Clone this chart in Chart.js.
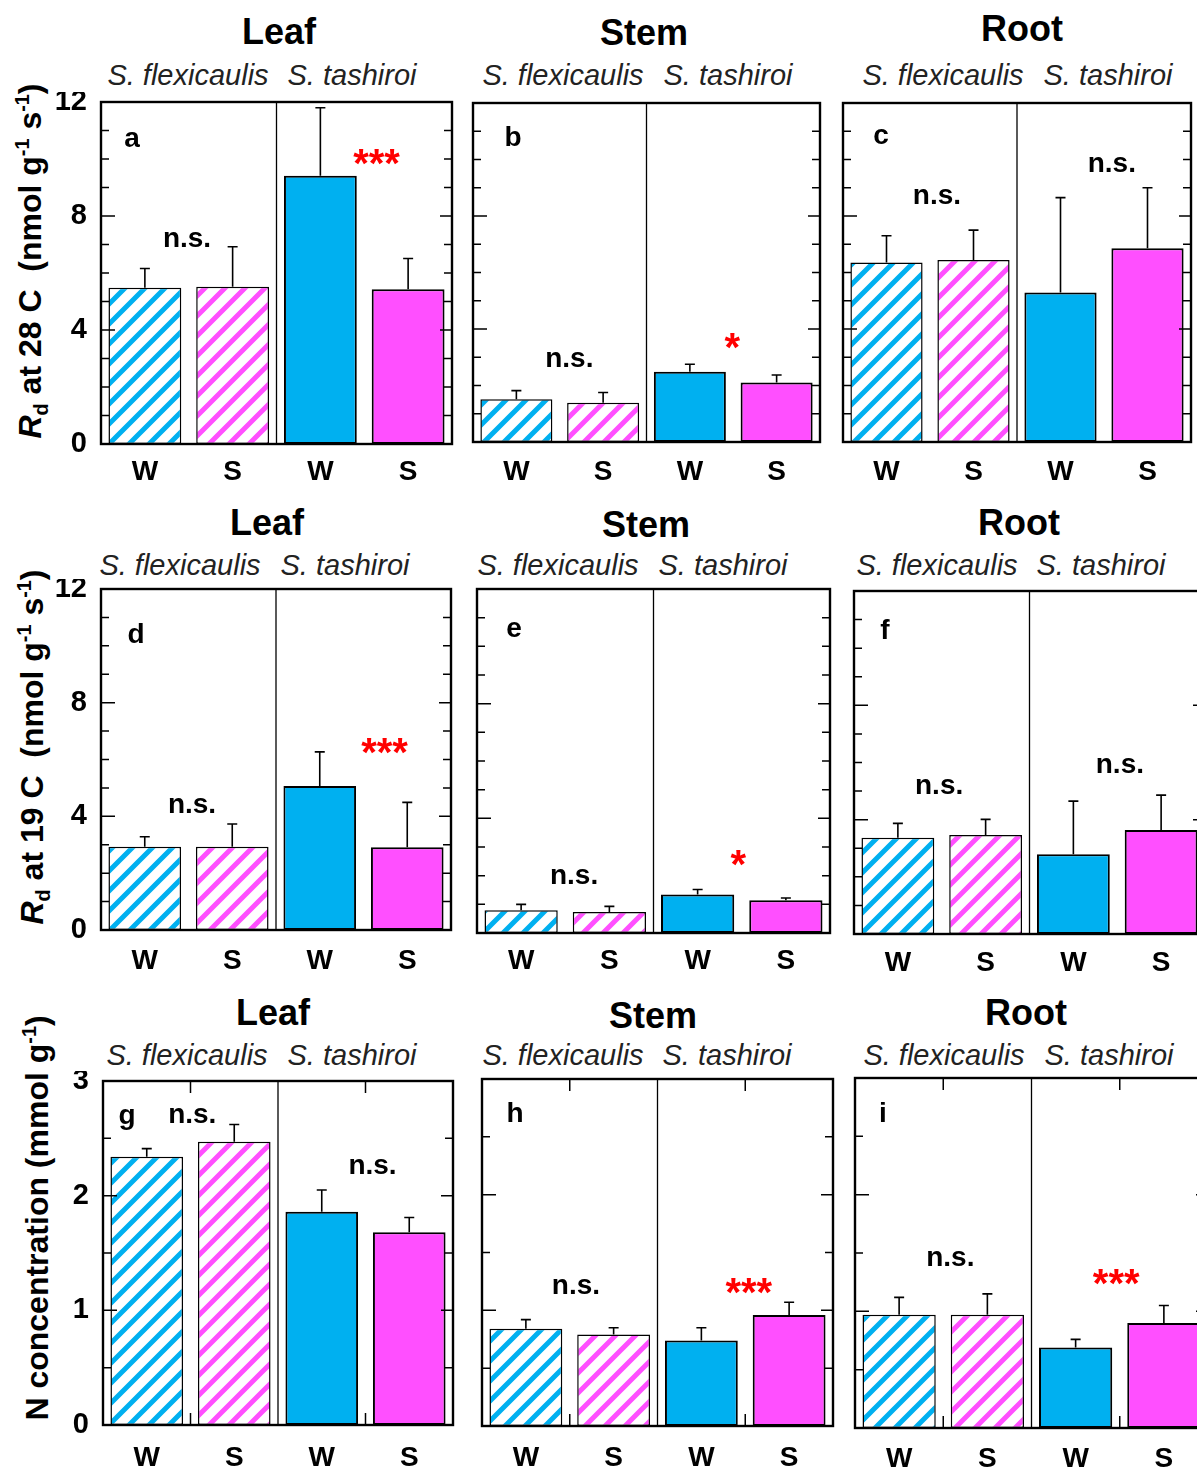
<!DOCTYPE html>
<html>
<head>
<meta charset="utf-8">
<script src="https://cdn.jsdelivr.net/npm/chart.js@4.4.1/dist/chart.umd.min.js"></script>
<style>
html, body { margin: 0; padding: 0; width: 1197px; height: 1470px; overflow: hidden; background: #fff; }
body { position: relative; font-family: "Liberation Sans", Arial, sans-serif; color: #000; }
canvas { position: absolute; }
.lbl { position: absolute; transform: translate(-50%, -50%); white-space: nowrap; line-height: 1; }
.title { font-weight: bold; font-size: 36px; }
.sp { font-style: italic; font-size: 29px; color: #222; }
.ytitle { position: absolute; white-space: nowrap; line-height: 1; font-weight: bold; font-size: 32px;
          transform: translate(-50%, -50%) rotate(-90deg); }
.ytitle sub, .ytitle sup { font-size: 62%; line-height: 0; }
</style>
</head>
<body>
<div class="ytitle" style="left:30px; top:261px"><i>R</i><sub>d</sub> at 28 C&nbsp; (nmol g<sup>-1</sup> s<sup>-1</sup>)</div>
<div class="ytitle" style="left:32px; top:747px"><i>R</i><sub>d</sub> at 19 C&nbsp; (nmol g<sup>-1</sup> s<sup>-1</sup>)</div>
<div class="ytitle" style="left:37px; top:1218px">N concentration (mmol g<sup>-1</sup>)</div>
<script>
const organs = ["Leaf", "Stem", "Root"];
const species = ["S. flexicaulis", "S. tashiroi"];
const groups = ["W", "S", "W", "S"];

// Rd at 28 C (nmol g-1 s-1), mean and SE
const leaf28 = [5.48, 5.52, 9.41, 5.43];
const leaf28Se = [0.68, 1.40, 2.39, 1.08];
const stem28 = [1.51, 1.39, 2.49, 2.11];
const stem28Se = [0.31, 0.36, 0.26, 0.26];
const root28 = [6.35, 6.44, 5.29, 6.86];
const root28Se = [0.95, 1.06, 3.36, 2.14];

// Rd at 19 C
const leaf19 = [2.93, 2.93, 5.07, 2.91];
const leaf19Se = [0.35, 0.80, 1.20, 1.58];
const stem19 = [0.79, 0.73, 1.34, 1.14];
const stem19Se = [0.21, 0.20, 0.18, 0.08];
const root19 = [3.37, 3.46, 2.79, 3.64];
const root19Se = [0.50, 0.55, 1.86, 1.22];

// N concentration (mmol g-1)
const leafN = [2.34, 2.47, 1.86, 1.68];
const leafNSe = [0.07, 0.15, 0.19, 0.13];
const stemN = [0.84, 0.79, 0.74, 0.96];
const stemNSe = [0.08, 0.06, 0.11, 0.11];
const rootN = [0.97, 0.97, 0.69, 0.90];
const rootNSe = [0.15, 0.18, 0.07, 0.15];

// significance: [S. flexicaulis, S. tashiroi]
const leaf28Sig = ["n.s.", "***"];
const stem28Sig = ["n.s.", "*"];
const root28Sig = ["n.s.", "n.s."];
const leaf19Sig = ["n.s.", "***"];
const stem19Sig = ["n.s.", "*"];
const root19Sig = ["n.s.", "n.s."];
const leafNSig = ["n.s.", "n.s."];
const stemNSig = ["n.s.", "***"];
const rootNSig = ["n.s.", "***"];

const rdTicks = [0, 4, 8, 12];
const nTicks = [0, 1, 2, 3];

const BLUE = "#00B0F0";
const PINK = "#FF4FFF";
const FONT = "'Liberation Sans', Arial, sans-serif";
const ML = 60, MR = 10, MT = 10, MB = 55;

const panels = [
  { letter: "a", mean: leaf28, se: leaf28Se, sig: leaf28Sig, ticks: rdTicks, minor: 1, box: [101, 102, 452, 444], letterAt: [31, 45], sigAt: [[0.48, 7.16], [2.64, 10.2]], gap: 28, showY: true },
  { letter: "b", mean: stem28, se: stem28Se, sig: stem28Sig, ticks: rdTicks, minor: 1, box: [473, 103, 820, 442], letterAt: [40, 43], sigAt: [[0.61, 2.9], [2.49, 3.7]], gap: 30 },
  { letter: "c", mean: root28, se: root28Se, sig: root28Sig, ticks: rdTicks, minor: 1, box: [843, 103, 1191, 442], letterAt: [38, 41], sigAt: [[0.58, 8.68], [2.59, 9.8]], gap: 30 },
  { letter: "d", mean: leaf19, se: leaf19Se, sig: leaf19Sig, ticks: rdTicks, minor: 1, box: [101, 589, 451, 930], letterAt: [35, 54], sigAt: [[0.54, 4.36], [2.74, 6.58]], gap: 31, showY: true },
  { letter: "e", mean: stem19, se: stem19Se, sig: stem19Sig, ticks: rdTicks, minor: 1, box: [477, 589, 830, 933], letterAt: [37, 48], sigAt: [[0.6, 1.96], [2.46, 2.72]], gap: 28 },
  { letter: "f", mean: root19, se: root19Se, sig: root19Sig, ticks: rdTicks, minor: 1, box: [854, 591, 1205, 934], letterAt: [31, 48], sigAt: [[0.47, 5.15], [2.53, 5.9]], gap: 29 },
  { letter: "g", mean: leafN, se: leafNSe, sig: leafNSig, ticks: nTicks, minor: 0.5, box: [103, 1081, 453, 1425], letterAt: [24, 43], sigAt: [[0.52, 2.70], [2.58, 2.25]], gap: 33, showY: true, xTicks: true },
  { letter: "h", mean: stemN, se: stemNSe, sig: stemNSig, ticks: nTicks, minor: 0.5, box: [482, 1079, 833, 1426], letterAt: [33, 43], sigAt: [[0.57, 1.20], [2.54, 1.24]], gap: 32, xTicks: true },
  { letter: "i", mean: rootN, se: rootNSe, sig: rootNSig, ticks: nTicks, minor: 0.5, box: [855, 1078, 1208, 1428], letterAt: [28, 44], sigAt: [[0.58, 1.45], [2.46, 1.32]], gap: 31, xTicks: true }
];

const titleAt = [[279, 32], [644, 33], [1022, 29], [267, 523], [646, 525], [1019, 523], [273, 1013], [653, 1016], [1026, 1013]];
const speciesAt = [[188, 352, 75], [563, 728, 75], [943, 1108, 75], [180, 345, 565], [558, 723, 565], [937, 1101, 565], [187, 352, 1055], [563, 727, 1055], [944, 1109, 1055]];

function addLabel(cls, text, x, y) {
    const d = document.createElement("div");
    d.className = "lbl " + cls;
    d.textContent = text;
    d.style.left = x + "px";
    d.style.top = y + "px";
    document.body.appendChild(d);
}

titleAt.forEach((t, i) => {
    addLabel("title", organs[i % 3], t[0], t[1]);
    const s = speciesAt[i];
    addLabel("sp", species[0], s[0], s[2]);
    addLabel("sp", species[1], s[1], s[2]);
});

function stripes(color) {
    const s = 20;
    const c = document.createElement("canvas");
    c.width = s;
    c.height = s;
    const g = c.getContext("2d");
    g.fillStyle = "#fff";
    g.fillRect(0, 0, s, s);
    g.strokeStyle = color;
    g.lineWidth = 5;
    g.beginPath();
    g.moveTo(0, s); g.lineTo(s, 0);
    g.moveTo(-s / 2, s / 2); g.lineTo(s / 2, -s / 2);
    g.moveTo(s / 2, s * 1.5); g.lineTo(s * 1.5, s / 2);
    g.stroke();
    return g.createPattern(c, "repeat");
}

const decor = {
    id: "decor",
    afterDatasetsDraw(chart, args, p) {
        const { ctx, chartArea: a } = chart;
        const x = chart.scales.x, y = chart.scales.y;
        ctx.save();
        ctx.strokeStyle = "#000";

        // error bars (upper SE)
        ctx.lineWidth = 1.6;
        chart.getDatasetMeta(0).data.forEach((bar, i) => {
            const top = y.getPixelForValue(p.mean[i] + p.se[i]);
            ctx.beginPath();
            ctx.moveTo(bar.x, bar.y);
            ctx.lineTo(bar.x, top);
            ctx.moveTo(bar.x - 5, top);
            ctx.lineTo(bar.x + 5, top);
            ctx.stroke();
        });

        // frame and species divider
        ctx.lineWidth = 2.4;
        ctx.strokeRect(a.left, a.top, a.right - a.left, a.bottom - a.top);
        const mid = x.getPixelForValue(1.5);
        ctx.lineWidth = 1.3;
        ctx.beginPath();
        ctx.moveTo(mid, a.top);
        ctx.lineTo(mid, a.bottom);
        ctx.stroke();

        // inward y ticks on both sides
        ctx.lineWidth = 1.5;
        const max = p.ticks[p.ticks.length - 1];
        const steps = Math.round(max / p.minor);
        ctx.beginPath();
        for (let k = 1; k < steps; k++) {
            const v = k * p.minor;
            const py = y.getPixelForValue(v);
            const major = p.ticks.some(t => Math.abs(t - v) < 1e-6);
            ctx.moveTo(a.left, py);
            ctx.lineTo(a.left + (major ? 14 : 8), py);
            ctx.moveTo(a.right, py);
            ctx.lineTo(a.right - (major ? 12 : 8), py);
        }
        if (p.xTicks) {
            [0.5, 2.5].forEach(v => {
                const px = x.getPixelForValue(v);
                ctx.moveTo(px, a.top);
                ctx.lineTo(px, a.top + 12);
                ctx.moveTo(px, a.bottom);
                ctx.lineTo(px, a.bottom - 12);
            });
        }
        ctx.stroke();

        // panel letter
        ctx.fillStyle = "#000";
        ctx.textAlign = "center";
        ctx.textBaseline = "alphabetic";
        ctx.font = "bold 28px " + FONT;
        ctx.fillText(p.letter, a.left + p.letterAt[0], a.top + p.letterAt[1]);

        // significance marks
        p.sig.forEach((s, i) => {
            const pos = p.sigAt[i];
            const px = x.getPixelForValue(pos[0]);
            const py = y.getPixelForValue(pos[1]);
            if (s.startsWith("*")) {
                ctx.fillStyle = "#FF0000";
                ctx.font = "bold 40px " + FONT;
                ctx.fillText(s, px, py + 0.58 * 40);
            } else {
                ctx.fillStyle = "#000";
                ctx.font = "bold 28px " + FONT;
                ctx.fillText(s, px, py + 0.26 * 28);
            }
        });
        ctx.restore();
    }
};

const blueHatch = stripes(BLUE);
const pinkHatch = stripes(PINK);

panels.forEach(p => {
    const [l, t, r, b] = p.box;
    const cv = document.createElement("canvas");
    cv.width = (r - l) + ML + MR;
    cv.height = (b - t) + MT + MB;
    cv.style.left = (l - ML) + "px";
    cv.style.top = (t - MT) + "px";
    document.body.appendChild(cv);

    new Chart(cv.getContext("2d"), {
        type: "bar",
        data: {
            labels: groups,
            datasets: [{
                data: p.mean,
                backgroundColor: [blueHatch, pinkHatch, BLUE, PINK],
                borderColor: "#000",
                borderWidth: [1.5, 1.5, 2, 2],
                borderSkipped: false,
                barPercentage: 0.83,
                categoryPercentage: 1
            }]
        },
        options: {
            responsive: false,
            animation: false,
            events: [],
            layout: { padding: { top: MT, right: MR, left: 0, bottom: 0 } },
            plugins: {
                legend: { display: false },
                tooltip: { enabled: false },
                decor: p
            },
            scales: {
                x: {
                    grid: { display: false, drawTicks: false },
                    border: { display: false },
                    ticks: {
                        color: "#000",
                        padding: p.gap - 16.8,
                        font: { family: FONT, size: 28, weight: "bold" }
                    },
                    afterFit: s => { s.height = MB; s.paddingLeft = 0; s.paddingRight = 0; }
                },
                y: {
                    min: 0,
                    max: p.ticks[p.ticks.length - 1],
                    grid: { display: false, drawTicks: false },
                    border: { display: false },
                    ticks: {
                        display: !!p.showY,
                        color: "#000",
                        padding: 14,
                        font: { family: FONT, size: 29, weight: "bold" }
                    },
                    afterBuildTicks: s => { s.ticks = p.ticks.map(v => ({ value: v })); },
                    afterFit: s => { s.width = ML; s.paddingTop = 0; s.paddingBottom = 0; }
                }
            }
        },
        plugins: [decor]
    });
});
</script>
</body>
</html>
